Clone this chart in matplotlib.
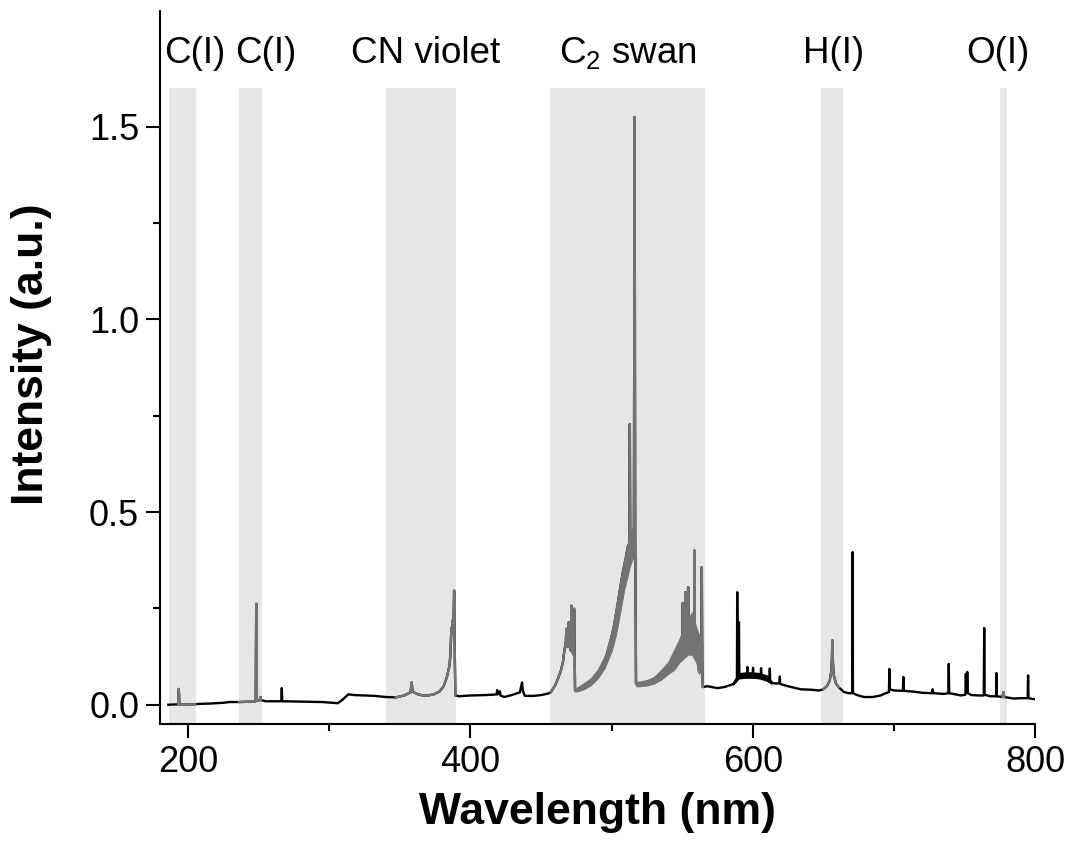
import numpy as np
import matplotlib
matplotlib.use("Agg")
import matplotlib.pyplot as plt

plt.rcParams['font.family'] = ['Liberation Sans', 'DejaVu Sans']
plt.rcParams['mathtext.fontset'] = 'custom'
plt.rcParams['mathtext.rm'] = 'Liberation Sans'
plt.rcParams['mathtext.it'] = 'Liberation Sans'
plt.rcParams['mathtext.bf'] = 'Liberation Sans:bold'

# ---- spectrum trace (nm, a.u.) ----
wavelength = [
    185.9, 192.8, 193.3, 193.8, 200, 205, 206, 215, 225, 229, 236, 245,
    247.8, 248.2, 248.6, 250.8, 251.2, 251.6, 255, 266.0, 266.3, 266.6,
    280, 295, 306, 309, 313.5, 318, 325, 332, 340, 347, 353, 357.5, 358.3,
    359.0, 362, 366, 370, 374, 378, 381, 383.3, 385, 385.7, 386.5, 387.0,
    387.5, 388.0, 388.4, 388.8, 389.3, 392, 400, 410, 416, 418.6, 418.9,
    419.2, 420.8, 421.2, 424, 430, 435, 436.5, 437.2, 438.5, 445, 450, 455,
    457, 460, 462, 464, 465.5, 466.5, 467.5, 468.0, 468.3, 469.3, 469.6,
    469.9, 471.2, 471.5, 471.8, 473.1, 473.4, 473.8, 474.1, 477, 480, 485,
    490, 494, 497, 500, 502, 504, 506, 508, 510, 511.5, 512.6, 512.9, 513.2,
    514.5, 515.8, 516.3, 516.7, 517.3, 520, 525, 530, 535, 540, 544, 548,
    550.3, 550.5, 550.7, 552.1, 552.3, 552.5, 554.0, 554.2, 554.4, 556,
    558.5, 558.7, 558.9, 561, 562, 563, 563.7, 563.9, 564.2, 564.6, 568,
    575, 580, 586.5, 588.8, 589.0, 589.3, 590.0, 590.2, 590.5, 594, 596,
    596.2, 596.4, 600, 600.2, 600.4, 603, 605.7, 605.9, 606.1, 609, 611.9,
    612.1, 612.3, 614, 617, 619.0, 619.2, 619.4, 625, 634, 641, 647, 650,
    652.5, 654.5, 655.6, 656.1, 656.4, 656.8, 657.5, 659, 661, 664.6, 668,
    670.6, 670.8, 671.0, 674, 678.8, 685, 690.6, 693, 696.5, 696.8, 697.1,
    700, 706.4, 706.7, 707.0, 714, 720, 727.2, 727.5, 727.8, 735.5, 738.6,
    738.9, 739.2, 745, 747.4, 750.7, 751.0, 751.3, 751.7, 752.0, 752.4, 755,
    760, 763.7, 764.0, 764.3, 768, 772.4, 772.7, 773.0, 777.0, 777.6, 778.2,
    785, 790, 794.8, 795.1, 795.4, 800,
]
intensity = [
    0.000, 0.001, 0.041, 0.001, 0.001, 0.001, 0.002, 0.003, 0.005, 0.007, 0.007, 0.008,
    0.009, 0.262, 0.010, 0.012, 0.020, 0.012, 0.009, 0.009, 0.043, 0.009,
    0.008, 0.007, 0.004, 0.012, 0.027, 0.025, 0.024, 0.023, 0.020, 0.019, 0.024, 0.032, 0.058,
    0.034, 0.028, 0.024, 0.024, 0.027, 0.034, 0.048, 0.072, 0.100, 0.125, 0.200, 0.185,
    0.220, 0.210, 0.296, 0.150, 0.024, 0.022, 0.024, 0.025, 0.026, 0.027, 0.038,
    0.027, 0.035, 0.024, 0.020, 0.026, 0.032, 0.058, 0.035, 0.023, 0.023, 0.025, 0.029,
    0.033, 0.050, 0.068, 0.088, 0.110, 0.140, 0.160, 0.197, 0.150, 0.150, 0.214,
    0.160, 0.140, 0.257, 0.140, 0.130, 0.249, 0.120, 0.037, 0.040, 0.046, 0.058,
    0.080, 0.105, 0.135, 0.175, 0.210, 0.255, 0.300, 0.345, 0.380, 0.410, 0.420, 0.728, 0.430,
    0.440, 0.450, 1.525, 0.450, 0.054, 0.052, 0.055, 0.062, 0.076, 0.095, 0.115, 0.140,
    0.160, 0.264, 0.160, 0.170, 0.292, 0.170, 0.175, 0.305, 0.175, 0.170,
    0.170, 0.400, 0.160, 0.120, 0.085, 0.160, 0.160, 0.357, 0.120, 0.046, 0.048,
    0.043, 0.046, 0.054, 0.065, 0.292, 0.075, 0.075, 0.214, 0.075, 0.075, 0.080,
    0.098, 0.078, 0.078, 0.096, 0.076, 0.074, 0.075, 0.095, 0.075, 0.070, 0.068,
    0.094, 0.062, 0.056, 0.055, 0.056, 0.073, 0.054, 0.048, 0.040, 0.039, 0.037, 0.040,
    0.048, 0.062, 0.085, 0.120, 0.167, 0.110, 0.075, 0.055, 0.045, 0.033, 0.030,
    0.030, 0.396, 0.030, 0.025, 0.020, 0.020, 0.024, 0.028, 0.033, 0.093, 0.040,
    0.037, 0.036, 0.072, 0.036, 0.034, 0.031, 0.030, 0.040, 0.030, 0.028, 0.030,
    0.106, 0.030, 0.026, 0.024, 0.026, 0.080, 0.035, 0.035, 0.085, 0.030, 0.025,
    0.024, 0.024, 0.199, 0.026, 0.022, 0.022, 0.082, 0.022, 0.020, 0.033, 0.020,
    0.016, 0.017, 0.017, 0.076, 0.017, 0.014,
]

# ---- noise envelopes of the dense molecular bands ----
band1_wl = [474.2, 477, 480, 485, 490, 495, 500, 503, 506, 509, 511, 513, 515, 516.2]
band1_lo = [0.034, 0.036, 0.040, 0.050, 0.068, 0.095, 0.140, 0.180, 0.240, 0.300, 0.330, 0.360, 0.380, 0.400]
band1_hi = [0.042, 0.048, 0.055, 0.068, 0.090, 0.125, 0.190, 0.240, 0.310, 0.370, 0.410, 0.440, 0.460, 0.450]

band2_wl = [517.4, 520, 525, 530, 535, 540, 544, 548, 551, 554, 557, 560, 562, 564.3]
band2_lo = [0.048, 0.048, 0.050, 0.055, 0.065, 0.080, 0.090, 0.110, 0.120, 0.130, 0.130, 0.110, 0.080, 0.100]
band2_hi = [0.060, 0.060, 0.064, 0.072, 0.090, 0.110, 0.140, 0.170, 0.200, 0.220, 0.240, 0.200, 0.180, 0.160]

na_wl = [586, 590, 595, 600, 605, 610, 613]
na_lo = [0.052, 0.068, 0.070, 0.070, 0.068, 0.062, 0.055]
na_hi = [0.058, 0.082, 0.084, 0.084, 0.082, 0.076, 0.062]

# ---- highlighted emission regions ----
region_labels = ['C(I)', 'C(I)', 'CN violet', 'C$_2$ swan', 'H(I)', 'O(I)']
region_lo = [186.4, 236.0, 340.3, 456.5, 648.1, 775.3]
region_hi = [205.8, 252.1, 389.9, 566.0, 663.9, 780.0]
label_x = [204.8, 254.6, 368.0, 511.7, 657.5, 773.5]

x_ticks = [200, 400, 600, 800]
y_ticks = [0.0, 0.5, 1.0, 1.5]

fig = plt.figure(figsize=(10.70, 8.57), dpi=100)
ax = fig.add_axes([160/1070, 1 - 724/857, (1035-160)/1070, (724-11)/857])

shade = '#e6e6e6'
gray = '#737373'
for lo, hi in zip(region_lo, region_hi):
    ax.fill_between([lo, hi], -0.05, 1.60, color=shade, lw=0, zorder=0)

wl = np.array(wavelength)
it = np.array(intensity)
ax.plot(wl, it, color='black', lw=1.7, zorder=2)

inside = np.zeros(len(wl), dtype=bool)
for lo, hi in zip(region_lo, region_hi):
    inside |= (wl >= lo) & (wl <= hi)
gray_it = np.where(inside, it, np.nan)
ax.plot(wl, gray_it, color=gray, lw=1.7, zorder=3)

ax.fill_between(band1_wl, band1_lo, band1_hi, color=gray, lw=0.8, edgecolor=gray, zorder=3)
ax.fill_between(band2_wl, band2_lo, band2_hi, color=gray, lw=0.8, edgecolor=gray, zorder=3)
ax.fill_between(na_wl, na_lo, na_hi, color='black', lw=0.8, edgecolor='black', zorder=2)

for lab, xx in zip(region_labels, label_x):
    ax.text(xx, 1.666, lab, ha='center', va='baseline', fontsize=26.5)

ax.set_xlim(180, 800)
ax.set_ylim(-0.05, 1.80)
ax.set_xticks(x_ticks)
ax.set_yticks(y_ticks)
ax.set_yticklabels([f'{v:.1f}' for v in y_ticks])
ax.set_xticks([300, 500, 700], minor=True)
ax.set_yticks([0.25, 0.75, 1.25], minor=True)
ax.tick_params(which='major', direction='out', length=10, width=1.5, labelsize=26, pad=5)
ax.tick_params(which='minor', direction='out', length=5, width=1.5)
for s in ['top', 'right']:
    ax.spines[s].set_visible(False)
for s in ['left', 'bottom']:
    ax.spines[s].set_linewidth(1.5)

ax.set_xlabel('Wavelength (nm)', fontsize=32, fontweight='bold', labelpad=9)
ax.set_ylabel('Intensity (a.u.)', fontsize=32, fontweight='bold')
ax.yaxis.set_label_coords(-0.123, 0.518)

fig.savefig('out.png', dpi=100)
